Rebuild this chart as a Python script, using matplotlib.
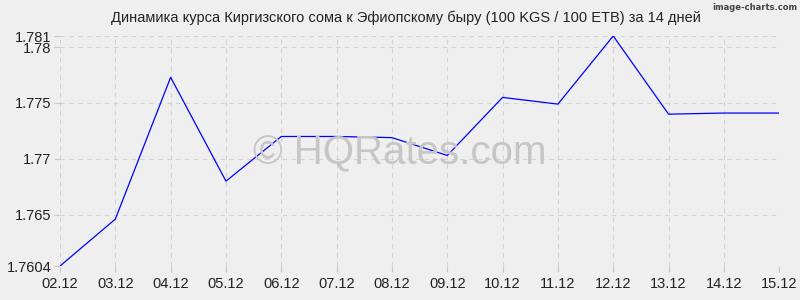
import matplotlib
matplotlib.use("Agg")
import matplotlib.pyplot as plt

plt.rcParams['font.family'] = ['Liberation Sans', 'DejaVu Sans']

dates = ["02.12", "03.12", "04.12", "05.12", "06.12", "07.12", "08.12",
         "09.12", "10.12", "11.12", "12.12", "13.12", "14.12", "15.12"]
rates = [1.7604, 1.7646, 1.7773, 1.7680, 1.7720, 1.7720, 1.7719,
         1.7703, 1.7755, 1.7749, 1.7810, 1.7740, 1.7741, 1.7741]
yticks = [1.7604, 1.765, 1.77, 1.775, 1.78, 1.781]
ytick_labels = ["1.7604", "1.765", "1.77", "1.775", "1.78", "1.781"]
title = "Динамика курса Киргизского сома к Эфиопскому быру (100 KGS / 100 ETB) за 14 дней"

bg = "#efefef"
fig = plt.figure(figsize=(8, 3), dpi=100, facecolor=bg)
ax = fig.add_axes([0.075, 0.1133, 0.899, 0.7667], facecolor=bg)
x = list(range(len(dates)))
ax.plot(x, rates, color="#0000ff", linewidth=0.9, zorder=3)
ax.set_xlim(0, len(dates) - 1)
ax.set_ylim(min(yticks), max(yticks))
ax.set_xticks(x)
ax.set_xticklabels(dates)
ax.set_yticks(yticks)
ax.set_yticklabels(ytick_labels)
ax.tick_params(axis="both", length=4, color="#c8c8c8", labelsize=10.5, labelcolor="#222222", pad=2)
ax.tick_params(axis="x", pad=4)
ax.grid(True, color="#d2d2d2", linestyle=(0, (4, 4)), linewidth=0.8)
for s in ax.spines.values():
    s.set_visible(False)
fig.text(0.5075, 0.94, title, fontsize=10.5, color="#222222", ha="center", va="center")
fig.text(0.5, 0.49, "© HQRates.com", fontsize=29, color="#c6c6c6", ha="center", va="center", zorder=1)
fig.text(0.997, 0.99, "image-charts.com", fontsize=6, color="#444444", ha="right", va="top",
         family=["Liberation Sans Narrow", "DejaVu Sans"], weight="bold")
fig.savefig("out.png", dpi=100, facecolor=bg)
